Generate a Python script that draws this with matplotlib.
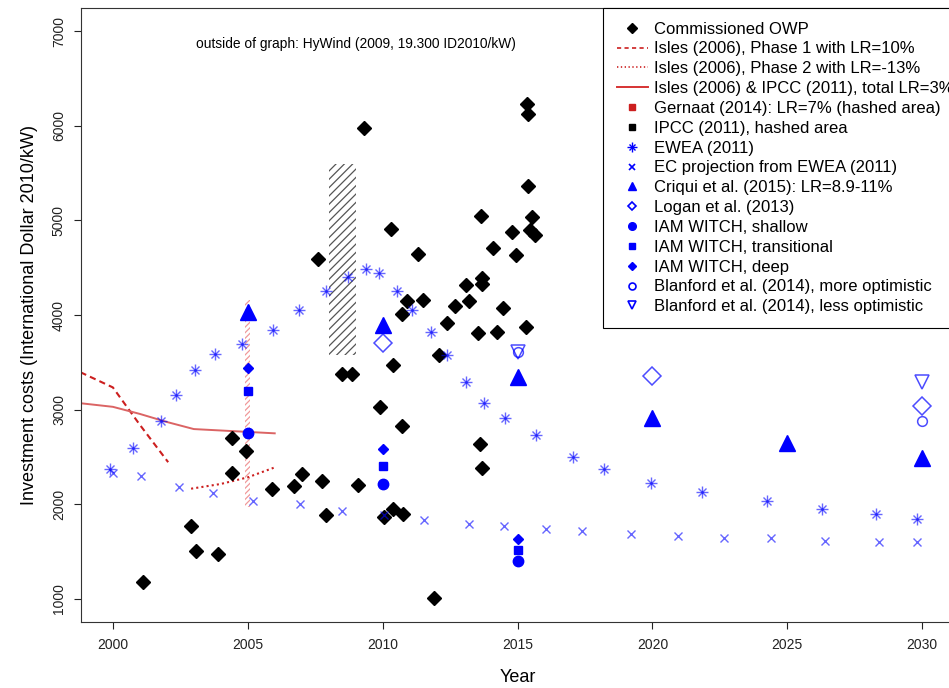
import matplotlib
matplotlib.use("Agg")
import matplotlib.pyplot as plt
from matplotlib.lines import Line2D
from matplotlib.patches import Rectangle

plt.rcParams['font.family'] = ['Liberation Sans', 'DejaVu Sans']
plt.rcParams['hatch.linewidth'] = 0.9

# commissioned offshore wind parks (year, cost)
owp_year = [2001.1, 2002.9, 2003.1, 2003.9, 2004.4, 2004.4, 2004.95, 2005.9, 2006.7, 2007.0,
            2007.6, 2007.75, 2007.9, 2008.5, 2008.85, 2009.1, 2009.3, 2009.9, 2010.05, 2010.3,
            2010.4, 2010.4, 2010.7, 2010.7, 2010.75, 2010.9, 2011.3, 2011.5, 2011.9, 2012.1,
            2012.4, 2012.7, 2013.1, 2013.2, 2013.55, 2013.6, 2013.65, 2013.7, 2013.7, 2013.7,
            2014.1, 2014.25, 2014.45, 2014.8, 2014.95, 2015.3, 2015.35, 2015.4, 2015.4, 2015.55,
            2015.45, 2015.65]
owp_cost = [1180, 1770, 1505, 1475, 2700, 2330, 2565, 2160, 2190, 2320,
            4590, 2245, 1890, 3375, 3375, 2205, 5975, 3030, 1865, 4905,
            1950, 3470, 4010, 2825, 1895, 4145, 4640, 4155, 1010, 3575,
            3915, 4100, 4315, 4145, 3810, 2640, 5045, 4390, 4325, 2385,
            4705, 3820, 4075, 4875, 4630, 3870, 6225, 6120, 5360, 5030,
            4895, 4845]

# Isles (2006) curves
p1_year = [1998.8, 2000, 2001, 2002.05]
p1_cost = [3395, 3235, 2840, 2445]
p2_year = [2002.9, 2004, 2005, 2006]
p2_cost = [2165, 2215, 2285, 2390]
tot_year = [1998.8, 2000, 2001, 2002, 2003, 2006]
tot_cost = [3068, 3030, 2955, 2870, 2795, 2750]

# hashed areas: (x0, x1, y0, y1)
gernaat_box = [2004.9, 2005.1, 1975, 4160]
ipcc_box = [2008.0, 2009.0, 3580, 5590]

ewea_year = [1999.9, 2000.75, 2001.8, 2002.35, 2003.05, 2003.8, 2004.8, 2005.95, 2006.9, 2007.9,
             2008.7, 2009.4, 2009.85, 2010.55, 2011.1, 2011.8, 2012.4, 2013.1, 2013.75, 2014.55,
             2015.7, 2017.05, 2018.2, 2019.95, 2021.85, 2024.25, 2026.3, 2028.3, 2029.8]
ewea_cost = [2370, 2595, 2880, 3155, 3420, 3585, 3690, 3840, 4050, 4250,
             4400, 4485, 4440, 4255, 4050, 3820, 3580, 3290, 3070, 2910,
             2730, 2500, 2370, 2225, 2130, 2035, 1950, 1900, 1845]

ec_year = [2000.0, 2001.05, 2002.45, 2003.7, 2005.2, 2006.95, 2008.5, 2010.05, 2011.55, 2013.2,
           2014.5, 2016.05, 2017.4, 2019.2, 2020.95, 2022.65, 2024.4, 2026.4, 2028.4, 2029.8]
ec_cost = [2330, 2300, 2185, 2120, 2035, 2000, 1930, 1885, 1835, 1795,
           1770, 1740, 1715, 1685, 1665, 1640, 1640, 1615, 1600, 1600]

criqui_year = [2005, 2010, 2015, 2020, 2025, 2030]
criqui_cost = [4030, 3890, 3345, 2910, 2650, 2490]
logan_year = [2010, 2020, 2030]
logan_cost = [3700, 3355, 3040]
iam_year = [2005, 2010, 2015]
iam_shallow = [2750, 2215, 1400]
iam_trans = [3195, 2405, 1515]
iam_deep = [3440, 2585, 1630]
blan_year = [2015, 2030]
blan_more = [3610, 2880]
blan_less = [3610, 3290]

labels = ["Commissioned OWP",
          "Isles (2006), Phase 1 with LR=10%",
          "Isles (2006), Phase 2 with LR=-13%",
          "Isles (2006) & IPCC (2011), total LR=3%",
          "Gernaat (2014): LR=7% (hashed area)",
          "IPCC (2011), hashed area",
          "EWEA (2011)",
          "EC projection from EWEA (2011)",
          "Criqui et al. (2015): LR=8.9-11%",
          "Logan et al. (2013)",
          "IAM WITCH, shallow",
          "IAM WITCH, transitional",
          "IAM WITCH, deep",
          "Blanford et al. (2014), more optimistic",
          "Blanford et al. (2014), less optimistic"]

RED = '#CC1F1F'
BLUE = '#0000FF'

fig = plt.figure(figsize=(9.49, 6.88), dpi=100)
ax = fig.add_axes([80.5 / 949, (688 - 621.7) / 688, 874 / 949, 613.4 / 688])
ax.set_xlim(1998.8, 2031.2)
ax.set_ylim(760, 7240)

# hashed areas
g = gernaat_box
ax.add_patch(Rectangle((g[0], g[2]), g[1] - g[0], g[3] - g[2], fill=False,
                       hatch='//////', edgecolor='#F0999A', lw=0, zorder=1))
p = ipcc_box
ax.add_patch(Rectangle((p[0], p[2]), p[1] - p[0], p[3] - p[2], fill=False,
                       hatch='////', edgecolor='#555555', lw=0, zorder=1))

# Isles lines
ax.plot(p1_year, p1_cost, color=RED, lw=1.5, ls=(0, (3, 2)), zorder=2)
ax.plot(p2_year, p2_cost, color=RED, lw=1.5, ls=(0, (1, 1.5)), zorder=2)
ax.plot(tot_year, tot_cost, color='#DB6464', lw=1.4, zorder=2)

ax.plot(owp_year, owp_cost, ls='none', marker='D', ms=7.3, color='black', zorder=3)

ax.plot(ewea_year, ewea_cost, ls='none', marker='+', ms=8, mew=1, color=BLUE, alpha=0.6, zorder=3)
ax.plot(ewea_year, ewea_cost, ls='none', marker='x', ms=5.5, mew=1, color=BLUE, alpha=0.6, zorder=3)
ax.plot(ec_year, ec_cost, ls='none', marker='x', ms=6, mew=1, color=BLUE, alpha=0.6, zorder=3)

ax.plot(criqui_year, criqui_cost, ls='none', marker='^', ms=12, color=BLUE, zorder=4)
ax.plot(logan_year, logan_cost, ls='none', marker='D', ms=9, mfc='none', mew=1.1,
        color=BLUE, alpha=0.7, zorder=4)
ax.plot(iam_year, iam_shallow, ls='none', marker='o', ms=7.5, color=BLUE, zorder=4)
ax.plot(iam_year, iam_trans, ls='none', marker='s', ms=6.3, color=BLUE, zorder=4)
ax.plot(iam_year, iam_deep, ls='none', marker='D', ms=5.6, color=BLUE, zorder=4)
ax.plot(blan_year, blan_more, ls='none', marker='o', ms=7, mfc='none', mew=1.1,
        color=BLUE, alpha=0.7, zorder=4)
ax.plot(blan_year, blan_less, ls='none', marker='v', ms=9.5, mfc='none', mew=1.1,
        color=BLUE, alpha=0.7, zorder=4)

ax.text(2009, 6860, "outside of graph: HyWind (2009, 19.300 ID2010/kW)",
        ha='center', va='center', fontsize=9.9)

# axes styling
ax.set_xticks([2000, 2005, 2010, 2015, 2020, 2025, 2030])
ax.set_yticks([1000, 2000, 3000, 4000, 5000, 6000, 7000])
ax.tick_params(axis='both', direction='out', length=5, width=0.8, labelsize=10, colors='#222222')
ax.tick_params(axis='x', pad=7)
ax.tick_params(axis='y', pad=5.5)
plt.setp(ax.get_yticklabels(), rotation=90, va='center')
for s in ax.spines.values():
    s.set_linewidth(0.8)
    s.set_color('#333333')

ax.set_xlabel("Year", fontsize=13, va='center')
ax.xaxis.set_label_coords(0.5, -(677 - 621.7) / 613.4)
ax.set_ylabel("Investment costs (International Dollar 2010/kW)", fontsize=13, va='center')
ax.yaxis.set_label_coords((30 - 80.5) / 874, 0.5)

# legend
handles = [
    Line2D([], [], ls='none', marker='D', ms=5, color='black'),
    Line2D([], [], color=RED, lw=1.2, ls=(0, (2.5, 2))),
    Line2D([], [], color=RED, lw=1.2, ls=(0, (0.8, 1.5))),
    Line2D([], [], color='#D63333', lw=1.4),
    Line2D([], [], ls='none', marker='s', ms=4, color=RED),
    Line2D([], [], ls='none', marker='s', ms=4, color='black'),
    (Line2D([], [], ls='none', marker='+', ms=6.5, mew=1, color=BLUE),
     Line2D([], [], ls='none', marker='x', ms=4.5, mew=1, color=BLUE)),
    Line2D([], [], ls='none', marker='x', ms=5, mew=1.2, color=BLUE),
    Line2D([], [], ls='none', marker='^', ms=6, color=BLUE),
    Line2D([], [], ls='none', marker='D', ms=4.3, mfc='none', mew=1.2, color=BLUE),
    Line2D([], [], ls='none', marker='o', ms=5.5, color=BLUE),
    Line2D([], [], ls='none', marker='s', ms=5, color=BLUE),
    Line2D([], [], ls='none', marker='D', ms=4.3, color=BLUE),
    Line2D([], [], ls='none', marker='o', ms=5, mfc='none', mew=1.2, color=BLUE),
    Line2D([], [], ls='none', marker='v', ms=6, mfc='none', mew=1.2, color=BLUE),
]
leg = ax.legend(handles, labels, loc='upper left', bbox_to_anchor=((603.3 - 80.5) / 874, 1.0),
                borderaxespad=0, fontsize=12, frameon=True, fancybox=False, framealpha=1,
                edgecolor='black', handlelength=1.86, handletextpad=0.4, borderpad=0.8,
                labelspacing=0.29)
leg.get_frame().set_linewidth(0.8)
leg.set_zorder(10)

fig.savefig("out.png", dpi=100)
